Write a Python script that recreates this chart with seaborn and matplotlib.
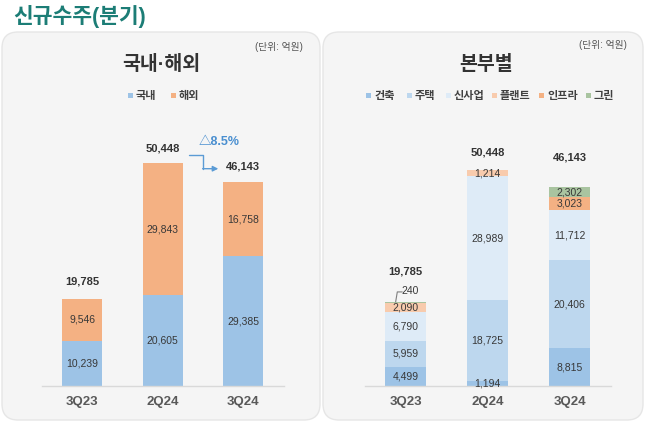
import matplotlib.pyplot as plt
from matplotlib.patches import FancyBboxPatch, Rectangle
import numpy as np
import seaborn as sns

quarters = ['3Q23', '2Q24', '3Q24']

# 국내·해외 (단위: 억원)
region_names = ['국내', '해외']
domestic = [10239, 20605, 29385]
overseas = [9546, 29843, 16758]
region_totals = [19785, 50448, 46143]
change_label = '△8.5%'

# 본부별 (단위: 억원)
division_names = ['건축', '주택', '신사업', '플랜트', '인프라', '그린']
building = [4499, 1194, 8815]
housing = [5959, 18725, 20406]
new_biz = [6790, 28989, 11712]
plant = [2090, 1214, 0]
infra = [0, 0, 3023]
green = [240, 0, 2302]
division_totals = [19785, 50448, 46143]

region_colors = ['#9DC3E6', '#F4B183']
division_colors = ['#9DC3E6', '#BDD7EE', '#DEEBF7', '#F8CBAD', '#F4B183', '#A9C4A0']

sns.set_style('white')
plt.rcParams['font.family'] = ['Liberation Sans', 'Noto Sans CJK KR', 'DejaVu Sans']

W, H = 645, 423
fig = plt.figure(figsize=(W / 100, H / 100), dpi=100)
fig.patch.set_facecolor('white')

# background layer in pixel units (y downwards)
bg = fig.add_axes([0, 0, 1, 1], zorder=0)
bg.set_xlim(0, W)
bg.set_ylim(H, 0)
bg.axis('off')

for x0, x1 in [(2, 320), (323, 643)]:
    bg.add_patch(FancyBboxPatch((x0, 32), x1 - x0, 388,
                                boxstyle='round,pad=0,rounding_size=16',
                                fc='#f5f5f5', ec='#e6e6e6', lw=1))

bg.text(13, 16, '신규수주(분기)', fontsize=15.5, fontweight='bold', color='#1c7d76',
        ha='left', va='center')
bg.text(161, 64, '국내·해외', fontsize=14, fontweight='bold', color='#333333',
        ha='center', va='center')
bg.text(486, 64, '본부별', fontsize=14, fontweight='bold', color='#333333',
        ha='center', va='center')
bg.text(303, 47, '(단위: 억원)', fontsize=7, color='#555555', ha='right', va='center')
bg.text(627, 45, '(단위: 억원)', fontsize=7, color='#555555', ha='right', va='center')


def legend_row(names, colors, xs, y=96):
    for name, c, x in zip(names, colors, xs):
        bg.add_patch(Rectangle((x - 2.5, y - 2.5), 5, 5, fc=c, ec='none'))
        bg.text(x + 6, y, name, fontsize=8, fontweight='bold', color='#404040',
                ha='left', va='center')


legend_row(region_names, region_colors, [130, 173])
legend_row(division_names, division_colors, [368, 409, 448, 494, 541, 588])


def px_axes(left, right, baseline, top):
    ax = fig.add_axes([left / W, (H - baseline) / H, (right - left) / W, (baseline - top) / H],
                      zorder=1)
    ax.patch.set_alpha(0)
    return ax


def stacked(ax, layers, colors, totals, total_offsets, ymax):
    cum = np.cumsum(np.array(layers), axis=0)
    # draw from the top layer down so lower layers cover the upper cumulative bars
    for k in range(len(layers) - 1, -1, -1):
        sns.barplot(x=quarters, y=cum[k], color=colors[k], width=0.5,
                    saturation=1, linewidth=0, ax=ax)
    for k, vals in enumerate(layers):
        for i, v in enumerate(vals):
            if v <= 0:
                continue
            if v < 500:
                top = cum[k][i]
                ax.plot([i - 0.12, i - 0.10, i - 0.04], [top, top + 2300, top + 2300],
                        color='#7f7f7f', lw=0.8)
                ax.text(i + 0.055, top + 2400, f'{v:,}', fontsize=7.5, color='#383838',
                        ha='center', va='center')
            else:
                ax.text(i, cum[k][i] - v / 2, f'{v:,}', fontsize=7.5, color='#383838',
                        ha='center', va='center')
    for i, t in enumerate(totals):
        ax.annotate(f'{t:,}', xy=(i, cum[-1][i]), xytext=(0, total_offsets[i] * 0.72),
                    textcoords='offset points', fontsize=8, fontweight='bold',
                    color='#333333', ha='center', va='center')
    ax.set_xlim(-0.5, 2.5)
    ax.set_ylim(0, ymax)
    ax.set_yticks([])
    ax.set_xlabel('')
    ax.set_ylabel('')
    for s in ['left', 'top', 'right']:
        ax.spines[s].set_visible(False)
    ax.spines['bottom'].set_color('#d9d9d9')
    ax.spines['bottom'].set_linewidth(1)
    ax.tick_params(axis='x', length=0, pad=7, labelsize=9.5, labelcolor='#595959')
    for lbl in ax.get_xticklabels():
        lbl.set_fontweight('bold')


ax1 = px_axes(42, 283.5, 386, 386 - 265)
stacked(ax1, [domestic, overseas], region_colors, region_totals, [17, 15, 16], 60000)

# change arrow between 2Q24 and 3Q24
arrow_c = '#5B9BD5'
ax1.plot([1.33, 1.50, 1.50], [52400, 52400, 49200], color=arrow_c, lw=1)
ax1.annotate('', xy=(1.69, 49200), xytext=(1.495, 49200),
             arrowprops=dict(arrowstyle='-|>', color=arrow_c, lw=1, mutation_scale=8,
                             shrinkA=0, shrinkB=0))
ax1.text(1.70, 55200, change_label, fontsize=9, fontweight='bold', color='#4A8FD0',
         ha='center', va='center')

ax2 = px_axes(364.5, 610.5, 386, 386 - 258)
stacked(ax2, [building, housing, new_biz, plant, infra, green], division_colors,
        division_totals, [30, 18, 30], 60000)

fig.savefig('out.png', dpi=100, facecolor='white')
